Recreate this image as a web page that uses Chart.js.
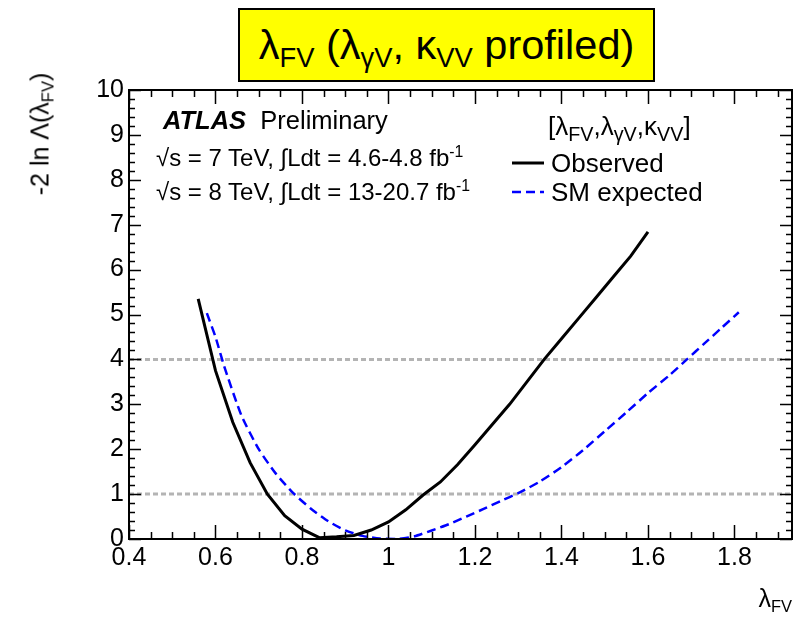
<!DOCTYPE html>
<html>
<head>
<meta charset="utf-8">
<script src="https://cdn.jsdelivr.net/npm/chart.js@4"></script>
<style>
  body { margin: 0; background: #fff; }
  #wrap {
    position: relative; width: 802px; height: 618px; overflow: hidden;
    font-family: "Liberation Sans", Arial, Helvetica, sans-serif; color: #000;
  }
  #chart { position: absolute; left: 0; top: 0; }
  .txt { position: absolute; white-space: nowrap; line-height: 1; }
  sub, sup { font-size: 66%; line-height: 0; }
  sub { vertical-align: -0.3em; }
  sup { vertical-align: 0.55em; }
  .big sub { font-size: 76%; }
  #title {
    position: absolute; left: 238px; top: 8px; width: 413px; height: 70px;
    border: 2px solid #000; background: #ffff00;
    font-size: 41.5px; line-height: 70px; text-align: center; white-space: nowrap;
  }
  .info { font-size: 24px; }
  .leg { font-size: 26px; }
  #ytitle {
    position: absolute; left: 40px; top: 134px; font-size: 25px; white-space: nowrap;
    transform: translate(-50%, -50%) rotate(-90deg);
  }
  .sample { position: absolute; }
</style>
</head>
<body>
<div id="wrap">
  <canvas id="chart" width="802" height="618"></canvas>

  <div id="title">λ<sub>FV</sub> (λ<sub>γV</sub>, κ<sub>VV</sub> profiled)</div>

  <div class="txt" style="left:163px; top:108px; font-size:25.5px;"><b><i>ATLAS</i></b>&nbsp;&nbsp;Preliminary</div>
  <div class="txt info" style="left:156px; top:146px;">√s = 7 TeV, ∫Ldt = 4.6-4.8 fb<sup>-1</sup></div>
  <div class="txt info" style="left:156px; top:180px;">√s = 8 TeV, ∫Ldt = 13-20.7 fb<sup>-1</sup></div>

  <div class="txt leg big" style="left:548px; top:113px;">[λ<sub>FV</sub>,λ<sub>γV</sub>,κ<sub>VV</sub>]</div>
  <svg class="sample" style="left:510px; top:155px;" width="36" height="40">
    <line x1="2" y1="8" x2="34" y2="8" stroke="#000" stroke-width="3"/>
    <line x1="2" y1="37" x2="34" y2="37" stroke="#0000ff" stroke-width="2.5" stroke-dasharray="9 5"/>
  </svg>
  <div class="txt leg" style="left:551px; top:150px;">Observed</div>
  <div class="txt leg" style="left:551px; top:179px;">SM expected</div>

  <div id="ytitle">-2 ln Λ(λ<sub>FV</sub>)</div>
  <div class="txt" style="right:10px; top:586px; font-size:25px;">λ<sub>FV</sub></div>
</div>

<script>
const FONT = '"Liberation Sans", Arial, Helvetica, sans-serif';

// axis ranges and labelled ticks
const X_MIN = 0.4;
const X_MAX = 1.933;
const Y_MIN = 0;
const Y_MAX = 10;
const xTicks = [0.4, 0.6, 0.8, 1, 1.2, 1.4, 1.6, 1.8];
const yTicks = [0, 1, 2, 3, 4, 5, 6, 7, 8, 9, 10];

// observed scan
const obsX = [0.56, 0.60, 0.64, 0.68, 0.72, 0.76, 0.80, 0.84, 0.88, 0.92, 0.96,
  1.00, 1.04, 1.08, 1.12, 1.16, 1.20, 1.24, 1.28, 1.32, 1.36, 1.40, 1.44, 1.48, 1.52, 1.56, 1.60];
const obsY = [5.35, 3.75, 2.6, 1.7, 1.0, 0.52, 0.22, 0.03, 0.05, 0.08, 0.2,
  0.38, 0.65, 0.98, 1.27, 1.66, 2.1, 2.55, 3.0, 3.5, 4.0, 4.46, 4.92, 5.38, 5.84, 6.3, 6.84];

// SM expected scan
const expX = [0.58, 0.60, 0.62, 0.66, 0.70, 0.74, 0.78, 0.82, 0.86, 0.90, 0.94, 0.98,
  1.02, 1.06, 1.10, 1.14, 1.18, 1.22, 1.26, 1.30, 1.35, 1.40, 1.45, 1.50, 1.55,
  1.60, 1.65, 1.69, 1.73, 1.77, 1.81];
const expY = [5.03, 4.5, 3.85, 2.75, 2.0, 1.45, 1.02, 0.68, 0.40, 0.19, 0.07, 0.01,
  0.0, 0.06, 0.19, 0.33, 0.5, 0.67, 0.85, 1.02, 1.28, 1.6, 1.98, 2.4, 2.82,
  3.25, 3.65, 4.0, 4.35, 4.7, 5.05];

// 1 and 2 sigma reference levels
const refLevels = [1, 4];

const toPoints = (xs, ys) => xs.map((x, i) => ({ x, y: ys[i] }));

// ROOT style frame with inward ticks on all four sides
const frameTicks = {
  id: 'frameTicks',
  afterDraw(chart) {
    const { ctx, chartArea: a, scales: { x, y } } = chart;
    ctx.save();
    ctx.strokeStyle = '#000';
    ctx.lineWidth = 1.5;
    ctx.beginPath();
    for (let k = 0; ; k++) {
      const v = X_MIN + k * 0.05;
      if (v > X_MAX + 1e-9) break;
      const px = Math.round(x.getPixelForValue(v)) + 0.5;
      const len = k % 4 === 0 ? 14 : 7;
      ctx.moveTo(px, a.bottom); ctx.lineTo(px, a.bottom - len);
      ctx.moveTo(px, a.top); ctx.lineTo(px, a.top + len);
    }
    for (let k = 0; k <= 50; k++) {
      const py = Math.round(y.getPixelForValue(k * 0.2)) + 0.5;
      const len = k % 5 === 0 ? 12 : 6;
      ctx.moveTo(a.left, py); ctx.lineTo(a.left + len, py);
      ctx.moveTo(a.right, py); ctx.lineTo(a.right - len, py);
    }
    ctx.stroke();
    ctx.lineWidth = 2;
    ctx.strokeRect(a.left, a.top, a.right - a.left, a.bottom - a.top);
    ctx.restore();
  }
};

const refSets = refLevels.map(level => ({
  label: 'level ' + level,
  data: [{ x: X_MIN, y: level }, { x: X_MAX, y: level }],
  borderColor: '#b4b4b4',
  borderWidth: 3,
  borderDash: [5, 3],
  pointRadius: 0,
}));

new Chart(document.getElementById('chart').getContext('2d'), {
  type: 'line',
  data: {
    datasets: [
      {
        label: 'Observed',
        data: toPoints(obsX, obsY),
        borderColor: '#000',
        borderWidth: 3,
        pointRadius: 0,
        tension: 0,
      },
      {
        label: 'SM expected',
        data: toPoints(expX, expY),
        borderColor: '#0000ff',
        borderWidth: 2.5,
        borderDash: [9, 5],
        pointRadius: 0,
        tension: 0.2,
      },
      ...refSets,
    ],
  },
  options: {
    responsive: false,
    animation: false,
    layout: { padding: { top: 90, right: 10, left: 0, bottom: 0 } },
    plugins: { legend: { display: false }, tooltip: { enabled: false } },
    scales: {
      x: {
        type: 'linear',
        min: X_MIN,
        max: X_MAX,
        grid: { display: false, drawTicks: false },
        border: { display: false },
        afterBuildTicks: s => { s.ticks = xTicks.map(v => ({ value: v })); },
        afterFit: s => { s.height = 79; },
        ticks: {
          color: '#000',
          font: { family: FONT, size: 25 },
          padding: 4,
          maxRotation: 0,
          autoSkip: false,
          callback: v => String(v),
        },
      },
      y: {
        type: 'linear',
        min: Y_MIN,
        max: Y_MAX,
        grid: { display: false, drawTicks: false },
        border: { display: false },
        afterBuildTicks: s => { s.ticks = yTicks.map(v => ({ value: v })); },
        afterFit: s => { s.width = 129; },
        ticks: {
          color: '#000',
          font: { family: FONT, size: 25 },
          padding: 5,
          autoSkip: false,
          callback: v => String(v),
        },
      },
    },
  },
  plugins: [frameTicks],
});
</script>
</body>
</html>
